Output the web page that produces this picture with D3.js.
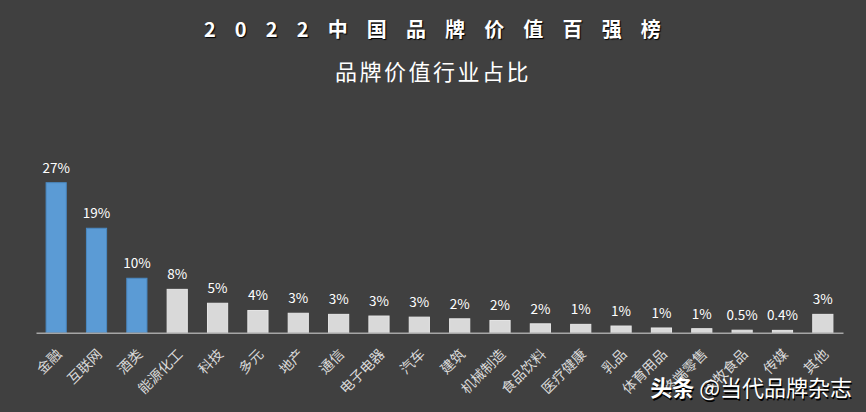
<!DOCTYPE html>
<html><head><meta charset="utf-8">
<script src="https://cdn.jsdelivr.net/npm/d3@7"></script>
<style>
html,body{margin:0;padding:0;background:#404040;}
svg{display:block;font-family:"Noto Sans CJK SC","Noto Sans",sans-serif;}
</style></head>
<body>
<svg id="chart" width="866" height="412"></svg>
<script>
const categories = ["金融","互联网","酒类","能源化工","科技","多元","地产","通信","电子电器","汽车","建筑","机械制造","食品饮料","医疗健康","乳品","体育用品","终端零售","农牧食品","传媒","其他"];
const values = [27, 18.8, 9.8, 7.8, 5.3, 4.0, 3.5, 3.3, 3.0, 2.8, 2.5, 2.2, 1.6, 1.5, 1.2, 0.85, 0.72, 0.45, 0.42, 3.3];
const valueLabels = ["27%","19%","10%","8%","5%","4%","3%","3%","3%","3%","2%","2%","2%","1%","1%","1%","1%","0.5%","0.4%","3%"];
const highlighted = ["金融","互联网","酒类"];
const title = "2 0 2 2 中 国 品 牌 价 值 百 强 榜";
const subtitle = "品牌价值行业占比";
const watermarkBold = "头条";
const watermarkRest = " @当代品牌杂志";

const svg = d3.select("#chart");
const axisY = 332.7, left = 36, right = 843;

const x = d3.scaleBand().domain(categories).range([left, right]).paddingInner(0.5).paddingOuter(0.25);
const y = d3.scaleLinear().domain([0, 27]).range([axisY, 182.7]);

const data = categories.map((c,i)=>({c, v: values[i], l: valueLabels[i]}));

// title
svg.append("text").attr("x", 436).attr("y", 37).attr("text-anchor","middle")
  .attr("font-size", 20).attr("font-weight","bold").attr("fill","#ffffff")
  .attr("letter-spacing", "7.3px")
  .style("text-shadow","1px 1px 1px #000")
  .text(title);
svg.append("text").attr("x", 433).attr("y", 80).attr("text-anchor","middle")
  .attr("font-size", 22).attr("fill","#ffffff")
  .attr("letter-spacing", "2.5px")
  .text(subtitle);

// bars
svg.append("g").selectAll("rect").data(data).join("rect")
  .attr("x", d=>x(d.c)).attr("width", x.bandwidth())
  .attr("y", d=>y(d.v)).attr("height", d=>axisY - y(d.v))
  .attr("fill", d=> highlighted.includes(d.c) ? "#5b9bd5" : "#d9d9d9")
  .attr("stroke", d=> highlighted.includes(d.c) ? "#4a89c2" : "#e6e6e6")
  .attr("stroke-width", 1);

// value labels
svg.append("g").selectAll("text").data(data).join("text")
  .attr("x", d=>x(d.c)+x.bandwidth()/2).attr("y", d=>y(d.v)-10)
  .attr("text-anchor","middle").attr("font-size", 13.5).attr("fill","#ffffff")
  .text(d=>d.l);

// axis
const xAxis = d3.axisBottom(x).tickSize(0).tickPadding(0);
const ag = svg.append("g").attr("transform", `translate(0,${axisY})`).call(xAxis);
ag.select(".domain").attr("stroke","#a6a6a6").attr("stroke-width",1.5);
ag.selectAll(".tick text")
  .attr("font-size", 14).attr("fill","#d9d9d9")
  .attr("font-family","\"Noto Sans CJK SC\",sans-serif")
  .attr("text-anchor","end")
  .attr("dy","0.35em")
  .attr("transform","translate(3,19) rotate(-45)");

// watermark
const wm = svg.append("text").attr("x", 852).attr("y", 396).attr("text-anchor","end")
  .attr("font-size", 22).attr("fill","#ffffff")
  .style("text-shadow","1px 2px 0 #000");
wm.append("tspan").attr("font-weight","bold").text(watermarkBold);
wm.append("tspan").text(watermarkRest);
</script>
</body></html>
